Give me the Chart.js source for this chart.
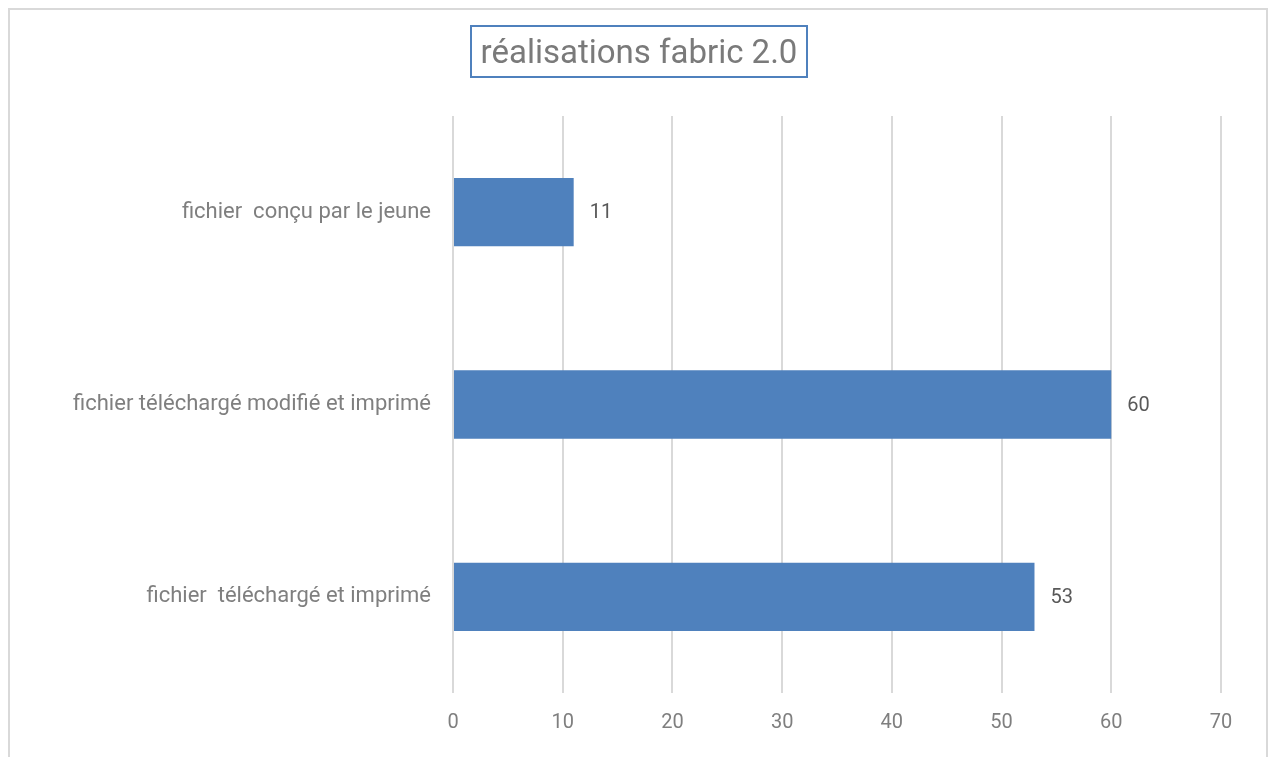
<!DOCTYPE html>
<html>
<head>
<meta charset="utf-8">
<script src="https://cdn.jsdelivr.net/npm/chart.js@4"></script>
<style>
    body { margin: 0; background: #fff; }
    #wrap { position: relative; width: 1271px; height: 757px; overflow: hidden; }
    #frame { position: absolute; left: 8px; top: 8px; width: 1260px; height: 760px; border: 2px solid #d9d9d9; box-sizing: border-box; }
    #titre { position: absolute; left: 470px; top: 25px; width: 338px; height: 53px; border: 2px solid #4f81bd; box-sizing: border-box;
             font-family: "Roboto", sans-serif; font-size: 33px; color: #7a7a7a; white-space: nowrap;
             display: flex; align-items: center; justify-content: center; }
    canvas { position: absolute; left: 0; top: 0; }
</style>
</head>
<body>
<div id="wrap">
    <div id="frame"></div>
    <canvas id="graphique" width="1271" height="757"></canvas>
    <div id="titre">réalisations fabric 2.0</div>
</div>
<script>
// Données du graphique
const categories = ["fichier  conçu par le jeune", "fichier téléchargé modifié et imprimé", "fichier  téléchargé et imprimé"];
const valeurs = [11, 60, 53];
const axeMin = 0;
const axeMax = 70;
const axePas = 10;

const police = '"Roboto", sans-serif';

// Étiquettes de valeurs au bout des barres
const etiquettesValeurs = {
    id: "etiquettesValeurs",
    afterDatasetsDraw(chart) {
        const ctx = chart.ctx;
        const meta = chart.getDatasetMeta(0);
        ctx.save();
        ctx.font = "20px " + police;
        ctx.fillStyle = "#595959";
        ctx.textAlign = "left";
        ctx.textBaseline = "middle";
        meta.data.forEach((bar, i) => {
            ctx.fillText(String(valeurs[i]), bar.x + 16, bar.y + 1);
        });
        ctx.restore();
    }
};

new Chart(document.getElementById("graphique").getContext("2d"), {
    type: "bar",
    data: {
        labels: categories,
        datasets: [{
            data: valeurs,
            backgroundColor: "#4f81bd",
            borderWidth: 0,
            categoryPercentage: 1,
            barPercentage: 0.355
        }]
    },
    options: {
        indexAxis: "y",
        responsive: false,
        animation: false,
        layout: { padding: { left: 0, right: 50, top: 116, bottom: 0 } },
        plugins: {
            legend: { display: false },
            title: { display: false },
            tooltip: { enabled: false }
        },
        scales: {
            x: {
                min: axeMin,
                max: axeMax,
                ticks: { stepSize: axePas, color: "#7f7f7f", font: { family: police, size: 20 }, padding: 18 },
                grid: { color: "#d9d9d9", lineWidth: 2, drawTicks: false },
                border: { display: false },
                afterFit(axis) { axis.height = 64; }
            },
            y: {
                ticks: { color: "#7f7f7f", font: { family: police, size: 22 }, padding: 22 },
                grid: { display: false, drawTicks: false },
                border: { display: false },
                afterFit(axis) { axis.width = 453; }
            }
        }
    },
    plugins: [etiquettesValeurs]
});
</script>
</body>
</html>
